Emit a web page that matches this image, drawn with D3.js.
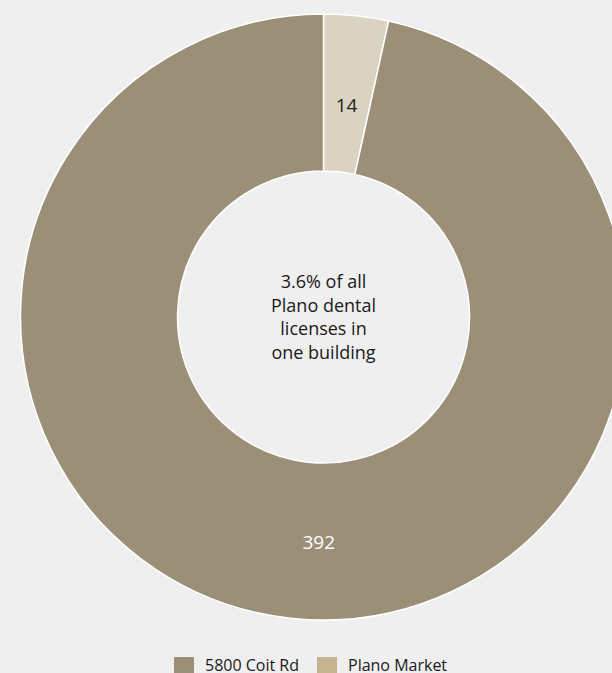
<!doctype html>
<html>
<head>
<script src="https://d3js.org/d3.v7.min.js"></script>
<style>
  html, body { margin: 0; padding: 0; background: #efefef; }
  svg { display: block; font-family: "Open Sans", "Noto Sans", sans-serif; }
</style>
</head>
<body>
<svg width="612" height="673"></svg>
<script>
// slice data (clockwise from 12 o'clock)
var sliceValues = [14, 392];
var sliceColors = ["#dbd3c2", "#9b8f78"];
var sliceLabelColors = ["#222222", "#ffffff"];

// legend
var legendNames = ["5800 Coit Rd", "Plano Market"];
var legendColors = ["#9b8f78", "#c3b48f"];

var centerLines = ["3.6% of all", "Plano dental", "licenses in", "one building"];

var svg = d3.select("svg"),
    cx = 323.5,
    cy = 317,
    outerR = 303,
    innerR = 146;

var g = svg.append("g")
    .attr("transform", "translate(" + cx + "," + cy + ")");

var pie = d3.pie().sort(null).value(d => d);
var arc = d3.arc().innerRadius(innerR).outerRadius(outerR);

var arcs = pie(sliceValues);

g.selectAll("path.slice")
  .data(arcs)
  .enter()
  .append("path")
  .attr("class", "slice")
  .attr("d", arc)
  .attr("fill", (d, i) => sliceColors[i])
  .attr("stroke", "#ffffff")
  .attr("stroke-width", 1.5);

// value labels - placed a bit off the plain centroid, like the original
var labelR = [213, 225];
var labelAngleShift = [0, -0.087];
function labelPos(d, i) {
  var a = (d.startAngle + d.endAngle) / 2 + labelAngleShift[i];
  return [Math.sin(a) * labelR[i], -Math.cos(a) * labelR[i]];
}

g.selectAll("text.val")
  .data(arcs)
  .enter()
  .append("text")
  .attr("class", "val")
  .attr("transform", (d, i) => "translate(" + labelPos(d, i) + ")")
  .attr("text-anchor", "middle")
  .attr("dy", "0.35em")
  .style("font-size", "19px")
  .style("fill", (d, i) => sliceLabelColors[i])
  .text(d => d.data);

// centre text
g.append("text")
  .attr("text-anchor", "middle")
  .style("font-size", "18px")
  .style("fill", "#1a1a1a")
  .selectAll("tspan")
  .data(centerLines)
  .enter()
  .append("tspan")
  .attr("x", 0)
  .attr("y", (d, i) => -29 + i * 23.7)
  .text(d => d);

// legend
var legendX = d3.scaleOrdinal().domain(legendNames).range([174, 317]);

var lg = svg.append("g").selectAll("g")
  .data(legendNames)
  .enter()
  .append("g")
  .attr("transform", d => "translate(" + legendX(d) + ",657)");

lg.append("rect")
  .attr("width", 20)
  .attr("height", 20)
  .attr("fill", (d, i) => legendColors[i]);

lg.append("text")
  .attr("x", 31)
  .attr("y", 14)
  .style("font-size", "16px")
  .style("fill", "#1a1a1a")
  .text(d => d);
</script>
</body>
</html>
